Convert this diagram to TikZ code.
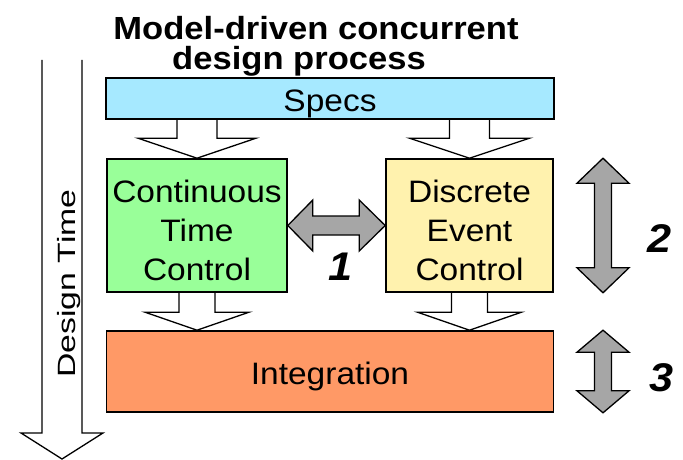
\documentclass[tikz,border=0pt]{standalone}
\usepackage{fontspec}
\setmainfont{Liberation Sans}[FakeStretch=1.08]
\newfontfamily\longfont{Liberation Sans}[FakeStretch=1.35]
\usetikzlibrary{calc}

\definecolor{specsblue}{RGB}{166,233,255}
\definecolor{ctgreen}{RGB}{153,255,153}
\definecolor{deyellow}{RGB}{255,242,174}
\definecolor{intorange}{RGB}{255,153,102}
\definecolor{arrowgray}{RGB}{166,166,166}

\tikzset{
  box/.style={draw=black, line width=1.6pt, inner sep=0pt, align=center,
    font=\fontsize{31}{39}\selectfont},
  hollow/.style={draw=black, line width=1.3pt, line join=miter},
  grayarrow/.style={draw=black, line width=1.3pt, fill=arrowgray, line join=miter},
  num/.style={anchor=base, font=\fontsize{40}{40}\selectfont\bfseries\itshape},
}
\newcommand\toppad{\rule{0pt}{32pt}}

% open block arrow: shaft from #1 down to the tip #2
\newcommand\hollowdown[5]{%
  \draw[hollow] let \p1=#1, \p2=#2 in
    (\x2-#3,\y1) -- (\x2-#3,\y2+#5) -- (\x2-#4,\y2+#5) -- (\x2,\y2)
    -- (\x2+#4,\y2+#5) -- (\x2+#3,\y2+#5) -- (\x2+#3,\y1);
}
% grey two-headed arrow, vertical, from #1 to #2
\newcommand\updown[3]{%
  \draw[grayarrow] let \p1=#1, \p2=#2 in
    (\x1,\y1) -- (\x1+26pt,\y1-#3) -- (\x1+8.5pt,\y1-#3) -- (\x1+8.5pt,\y2+#3)
    -- (\x1+26pt,\y2+#3) -- (\x2,\y2) -- (\x1-26pt,\y2+#3) -- (\x1-8.5pt,\y2+#3)
    -- (\x1-8.5pt,\y1-#3) -- (\x1-26pt,\y1-#3) -- cycle;
}

\begin{document}
\begin{tikzpicture}[x=1pt,y=-1pt]
  \useasboundingbox (0,0) rectangle (683,460);

  \node[inner sep=0pt, align=center, font=\fontsize{32}{30}\selectfont\bfseries]
    (title) at (316,46) {Model-driven concurrent\\design process\hspace*{34pt}};

  \node[box, fill=specsblue, minimum width=448pt, minimum height=41pt] (specs) at (330,98.5) {\toppad Specs};
  \node[box, fill=ctgreen, minimum width=180pt, minimum height=133pt] (ctc) at (197,225.5) {\toppad Continuous\\Time\\Control};
  \node[box, fill=deyellow, minimum width=167pt, minimum height=133pt] (dec) at (469.5,225.5) {\toppad Discrete\\Event\\Control};
  \node[box, fill=intorange, minimum width=447pt, minimum height=81pt] (integ) at (330,371.5) {\toppad Integration};

  % design time
  \coordinate (dttop) at (62,60);
  \coordinate (dttip) at (62,459);
  \hollowdown{(dttop)}{(dttip)}{20pt}{41pt}{26pt}
  \node[anchor=base, rotate=90, inner sep=0pt, font=\fontsize{25}{25}\selectfont\longfont]
    (dtime) at (75,283.5) {Design Time};

  % flow
  \hollowdown{(specs.south)}{(ctc.north)}{20pt}{59pt}{20pt}
  \hollowdown{(specs.south)}{(dec.north)}{20pt}{60pt}{20pt}
  \hollowdown{(ctc.south)}{(integ.north -| ctc.south)}{18pt}{52pt}{18pt}
  \hollowdown{(dec.south)}{(integ.north -| dec.south)}{18pt}{52pt}{18pt}

  % 1
  \draw[grayarrow] let \p1=(ctc.east), \p2=(dec.west) in
    (\x1,\y1) -- (\x1+25pt,\y1+25.5pt) -- (\x1+25pt,\y1+9.5pt) -- (\x2-26pt,\y1+9.5pt)
    -- (\x2-26pt,\y1+25.5pt) -- (\x2,\y1) -- (\x2-26pt,\y1-25.5pt) -- (\x2-26pt,\y1-9.5pt)
    -- (\x1+25pt,\y1-9.5pt) -- (\x1+25pt,\y1-25.5pt) -- cycle;
  \node[num] (one) at (341,280) {1};

  % 2 and 3
  \coordinate (axis) at (603,0);
  \updown{(dec.north -| axis)}{(dec.south -| axis)}{25pt}
  \node[num] (two) at (660,252) {2};
  \updown{(integ.north -| axis)}{(integ.south -| axis)}{22pt}
  \node[num] (three) at (662,391) {3};
\end{tikzpicture}
\end{document}
